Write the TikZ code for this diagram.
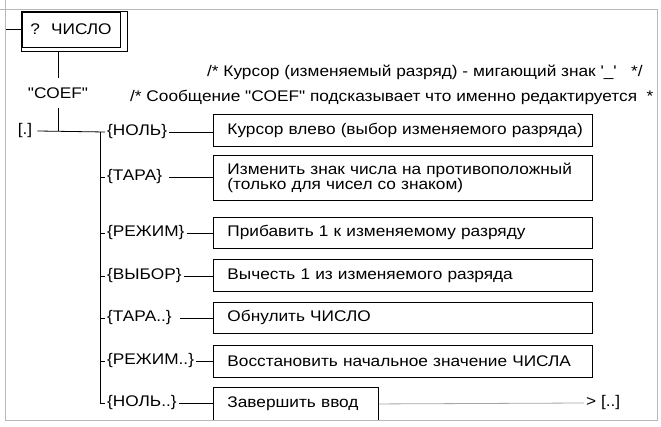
\documentclass[tikz,border=0pt]{standalone}
\usepackage{fontspec}
\setmainfont{Liberation Sans}[FakeStretch=1.12,Ligatures=TeXOff]
\begin{document}
\begin{tikzpicture}[x=1pt,y=-1pt,
  txt/.style={font=\fontsize{15.4}{14.4}\selectfont, inner sep=2pt},
  lab/.style={txt, anchor=west},
  act/.style={draw, line width=0.9pt, anchor=north west, font=\fontsize{15.4}{14.4}\selectfont,
    inner xsep=14pt, inner ysep=0pt, align=left},
  wire/.style={line width=0.8pt},
  frame/.style={draw=black!28, line width=1pt}]
\useasboundingbox (0,0) rectangle (661,427);
\fill[white] (0,0) rectangle (661,427);
% top block
\node[draw, line width=0.9pt, minimum width=98pt, minimum height=35pt, txt] (num) at (71,29.5) {? \ ЧИСЛО};
\coordinate (nsh) at ([shift={(7pt,-4pt)}]num.south east);
\draw[line width=0.9pt] (num.north west) rectangle (nsh);
\coordinate (in) at (5,29.5);
\draw[wire] (in) -- (num.west);
\node[txt, inner ysep=9pt] (coef) at (58,93) {"COEF"};
\draw[wire] (coef.north) -- (coef.north |- nsh);
\node[txt, inner xsep=5pt] (dot) at (25,131) {[.]};
% comments
\node[txt, anchor=west] (c1) at (205,72) {/* Курсор (изменяемый разряд) - мигающий знак '\_' \ \ */};
\node[txt, anchor=west] (c2) at (128,97) {/* Сообщение "COEF" подсказывает что именно редактируется \ *};
% labels
\node[lab] (l1) at (105,132) {\{НОЛЬ\}};
\node[lab] (l2) at (105,177) {\{ТАРА\} \ };
\node[lab] (l3) at (105,233) {\{РЕЖИМ\}};
\node[lab] (l4) at (105,276) {\{ВЫБОР\}};
\node[lab] (l5) at (105,318) {\{ТАРА..\} \ };
\node[lab] (l6) at (105,361) {\{РЕЖИМ..\}};
\node[lab] (l7) at (105,403) {\{НОЛЬ..\}};
\coordinate (bus) at (100,132);
% boxes
\node[act, text width=351pt, minimum height=32pt] (b1) at (213,114) {\mbox{Курсор влево (выбор изменяемого разряда)}};
\node[act, text width=351pt, minimum height=45pt] (b2) at (213,155) {\mbox{Изменить знак числа на противоположный}\\\mbox{(только для чисел со знаком)}};
\node[act, text width=351pt, minimum height=31pt] (b3) at (213,217) {\mbox{Прибавить 1 к изменяемому разряду}};
\node[act, text width=351pt, minimum height=32pt] (b4) at (213,259) {\mbox{Вычесть 1 из изменяемого разряда}};
\node[act, text width=351pt, minimum height=31pt] (b5) at (213,302) {\mbox{Обнулить ЧИСЛО}};
\node[act, text width=351pt, minimum height=32pt] (b6) at (213,345) {\mbox{Восстановить начальное значение ЧИСЛА}};
\node[act, text width=137pt, minimum height=33pt] (b7) at (213,387) {\mbox{Завершить ввод}};
\node[txt, anchor=west] (out) at (584,403) {> [..]};
% wires
\draw[wire] (coef.south) -- (coef.south |- dot.east);
\draw[wire] (dot.east) -- (l1.west);
\draw[wire] (bus) -- (l7.west -| bus) -- (l7.west);
\foreach \i in {2,...,6} \draw[wire] (l\i.west -| bus) -- (l\i.west);
\foreach \i in {1,...,7} \draw[wire] (l\i.east) -- (l\i.east -| b\i.west);
\draw[black!35, line width=0.8pt] (b7.east) -- (out.west);
% frame
\draw[frame] (0,10) -- (657,10) -- (657,420) -- (5,420) -- (5,0);
\end{tikzpicture}
\end{document}
